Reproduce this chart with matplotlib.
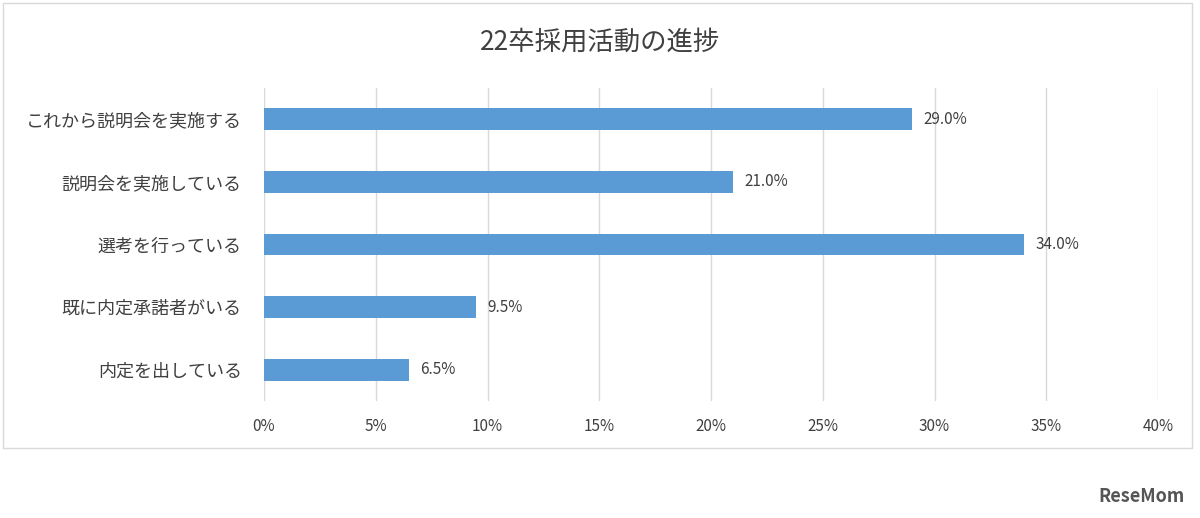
import matplotlib
matplotlib.use("Agg")
import matplotlib.pyplot as plt
from matplotlib.patches import Rectangle

plt.rcParams['font.family'] = ['Noto Sans CJK JP', 'DejaVu Sans']

categories = ["これから説明会を実施する", "説明会を実施している", "選考を行っている", "既に内定承諾者がいる", "内定を出している"]
values = [29.0, 21.0, 34.0, 9.5, 6.5]
ticks = [0, 5, 10, 15, 20, 25, 30, 35, 40]
title = "22卒採用活動の進捗"

fig = plt.figure(figsize=(12, 5.18), dpi=100)
fig.patches.append(Rectangle((3/1200, 1-448/518), 1189/1200, 445/518, transform=fig.transFigure,
                             fill=False, edgecolor='#d9d9d9', linewidth=1))
ax = fig.add_axes([264/1200, 1-401/518, 894/1200, 313/518])
y = list(range(len(categories)))
ax.barh(y, values, height=0.35, color='#5b9bd5')
for yi, v in zip(y, values):
    ax.text(v + 0.5, yi, f"{v:.1f}%", va='center', ha='left', fontsize=11, color='#404040')
ax.set_yticks(y)
ax.set_yticklabels(categories, fontsize=13, color='#404040')
ax.set_ylim(len(categories) - 0.5, -0.5)
ax.set_xlim(0, 40)
ax.set_xticks(ticks)
ax.set_xticklabels([f"{t}%" for t in ticks], fontsize=11, color='#404040')
ax.grid(axis='x', color='#d9d9d9', linewidth=1)
ax.set_axisbelow(True)
for s in ax.spines.values():
    s.set_visible(False)
ax.tick_params(length=0, pad=12)
ax.tick_params(axis='y', pad=16)
fig.text(0.5, 1-42/518, title, ha='center', va='center', fontsize=19, color='#404040')
fig.text(1185/1200, 1-497/518, "ReseMom", ha='right', va='center', fontsize=13, fontweight='bold', color='#555555')
fig.savefig("out.png", dpi=100)
